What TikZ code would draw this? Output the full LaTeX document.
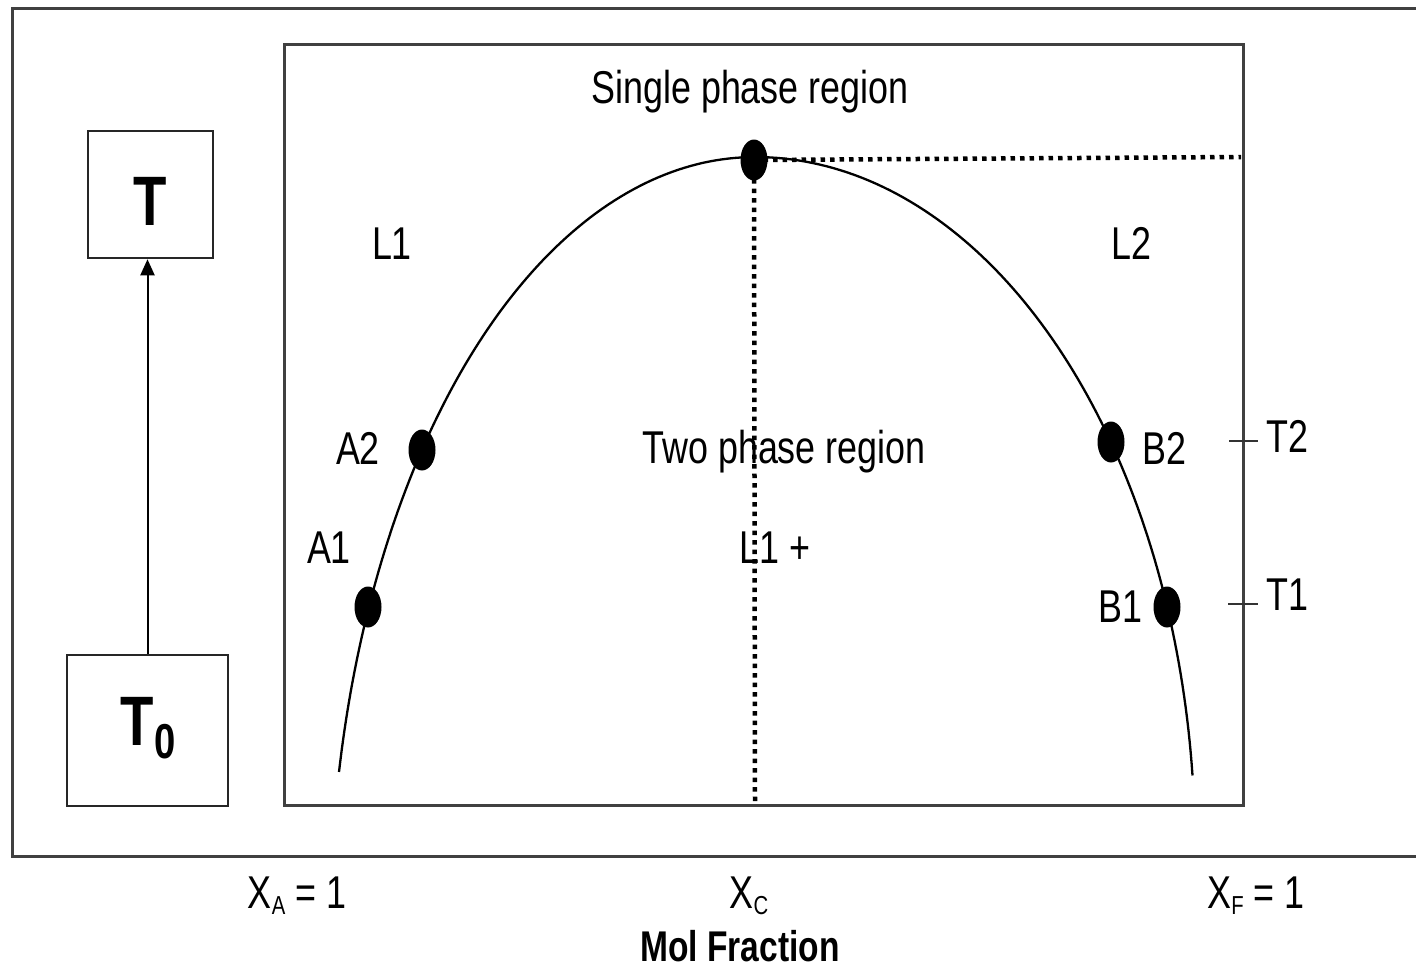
\documentclass[tikz,border=0pt]{standalone}
\usepackage{fontspec}
\setmainfont{Liberation Sans}[FakeStretch=0.78]
\usetikzlibrary{shapes.geometric,arrows.meta}
\begin{document}
\begin{tikzpicture}[x=1pt,y=-1pt,
  lbl/.style={anchor=base,inner sep=0pt,font=\fontsize{46}{50}\selectfont},
  biglbl/.style={anchor=base,inner sep=0pt,font=\fontsize{70}{72}\selectfont\bfseries},
  dotmark/.style={ellipse,fill=black,minimum width=27pt,minimum height=41pt,inner sep=0pt},
  tbox/.style={draw=black!85,line width=2.5pt,inner sep=0pt},
  frame/.style={line width=3pt,draw=black!75},
  dotline/.style={line width=4.5pt,dash pattern=on 4.5pt off 5pt},
  curve/.style={line width=2.3pt},
  tick/.style={line width=2.5pt,draw=black!80}]
\useasboundingbox[fill=white] (0,0) rectangle (1416,970);

% outer frame (open on the right)
\draw[frame] (1425,8) -- (12,8) -- (12,856) -- (1425,856);
% inner plot box
\node[frame,draw,minimum width=959pt,minimum height=761pt,inner sep=0pt] (plot) at (763.5,424.5) {};

% T boxes
\node[tbox,minimum width=125pt,minimum height=127pt] (Tbox) at (150.5,194.5) {};
\node[tbox,minimum width=161pt,minimum height=151pt] (T0box) at (147.5,730.5) {};
\node[biglbl] (Tlab) at (150,225) {T};
\node[biglbl] (T0lab) at (148,745) {T\raisebox{-13pt}{\fontsize{49}{50}\selectfont 0}};
\coordinate (arrowtop) at (T0box.north |- Tbox.south);
\draw[line width=2pt,-{Triangle[width=14pt,length=16pt]}] (T0box.north) -- (arrowtop);

% coexistence curve
\draw[curve] plot[domain=168.2:90,samples=90,variable=\t] ({755+425*cos(\t)},{930-773*sin(\t)});
\draw[curve] plot[domain=90:6.1,samples=90,variable=\t] ({755+440*cos(\t)},{849-692*sin(\t)});

% points
\node[dotmark] (C) at (754,160) {};
\node[dotmark] (A2) at (422,450) {};
\node[dotmark] (A1) at (368,607) {};
\node[dotmark] (B2) at (1111,442) {};
\node[dotmark] (B1) at (1167,607) {};

% dotted guide lines
\coordinate (Cr) at (1241,157);
\coordinate (Cb) at (755,803);
\draw[dotline] (C.center) -- (Cr);
\draw[dotline] (C.center) -- (Cb);

% temperature ticks
\coordinate (t2a) at (1229,441);
\coordinate (t2b) at (1258,441);
\coordinate (t1a) at (1228,604);
\coordinate (t1b) at (1258,604);
\draw[tick] (t2a) -- (t2b);
\draw[tick] (t1a) -- (t1b);

% labels
\node[lbl] (single) at (750,103) {Single phase region};
\node[lbl] (L1) at (392,259) {L1};
\node[lbl] (L2) at (1131,259) {L2};
\node[lbl] (A2l) at (358,464) {A2};
\node[lbl] (A1l) at (329,563) {A1};
\node[lbl] (B2l) at (1164,464) {B2};
\node[lbl] (B1l) at (1120,622) {B1};
\node[lbl] (two) at (784,463) {Two phase region};
\node[lbl] (L1p) at (775,563) {L1 +};
\node[lbl,anchor=base west] (T2l) at (1266,452) {T2};
\node[lbl,anchor=base west] (T1l) at (1266,610) {T1};
\node[lbl] (XA) at (297,908) {X\raisebox{-6pt}{\fontsize{26}{28}\selectfont A} = 1};
\node[lbl] (XC) at (749,908) {X\raisebox{-6pt}{\fontsize{26}{28}\selectfont C}};
\node[lbl] (XF) at (1256,908) {X\raisebox{-6pt}{\fontsize{26}{28}\selectfont F} = 1};
\node[lbl,font=\fontsize{43}{46}\selectfont\bfseries] (mol) at (740,961) {Mol Fraction};
\end{tikzpicture}
\end{document}
